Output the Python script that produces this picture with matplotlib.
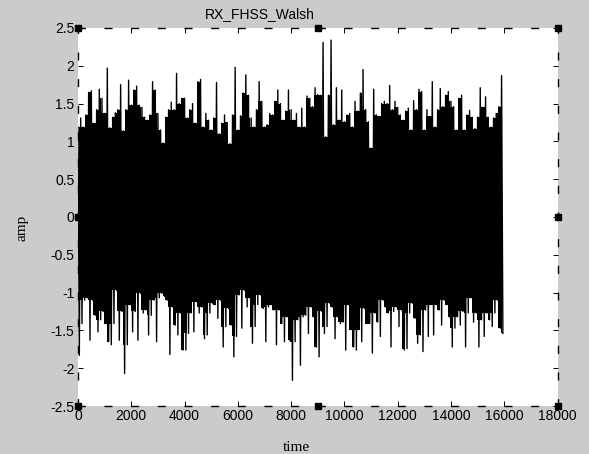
import numpy as np
import matplotlib
matplotlib.use("Agg")
import matplotlib.pyplot as plt

plt.rcParams['axes.unicode_minus'] = False

# peak (upper) and trough (lower) amplitude in each 100-sample slot
upper = [1.19, 1.31, 1.19, 1.35, 1.65, 1.67, 1.24, 1.42, 1.69, 1.57,
         1.37, 1.97, 1.18, 1.32, 1.38, 1.42, 1.75, 1.14, 1.42, 1.81,
         1.48, 1.68, 1.73, 1.48, 1.45, 1.32, 1.28, 1.35, 1.79, 1.68,
         1.37, 1.15, 0.98, 1.32, 1.42, 1.52, 1.42, 1.90, 1.50, 1.57,
         1.57, 1.31, 1.42, 1.50, 1.24, 1.79, 1.82, 1.19, 1.37, 1.28,
         1.15, 1.31, 1.78, 1.10, 1.24, 1.35, 1.25, 0.97, 1.35, 1.98,
         1.15, 1.34, 1.64, 1.88, 1.61, 1.31, 1.19, 1.42, 1.79, 1.53,
         1.19, 1.22, 1.37, 1.35, 1.53, 1.68, 1.50, 1.28, 1.40, 1.68,
         1.42, 1.28, 1.37, 1.19, 1.44, 1.19, 1.60, 1.57, 1.46, 1.71,
         1.62, 1.61, 2.31, 1.06, 1.61, 2.34, 1.22, 1.71, 1.28, 1.68,
         1.26, 1.35, 1.37, 1.19, 1.53, 1.40, 1.64, 1.95, 1.42, 1.26,
         0.91, 1.69, 1.35, 1.33, 1.50, 1.53, 1.50, 1.74, 1.42, 1.53,
         1.45, 1.35, 1.28, 1.40, 1.44, 1.15, 1.54, 1.42, 1.69, 1.66,
         1.15, 1.42, 1.33, 1.79, 1.19, 1.42, 1.70, 1.46, 1.61, 1.66,
         1.53, 1.46, 1.15, 1.57, 1.61, 1.15, 1.35, 1.41, 1.32, 1.17,
         1.32, 1.71, 1.45, 1.59, 1.32, 1.19, 1.31, 1.37, 1.46, 1.87]

lower = [-1.83, -1.41, -1.10, -1.07, -1.63, -1.10, -1.30, -1.52, -1.36, -1.25,
         -1.41, -1.65, -1.69, -1.41, -0.97, -1.63, -1.25, -2.07, -1.69, -1.16,
         -1.52, -1.25, -1.63, -1.01, -1.27, -1.23, -1.56, -1.30, -1.10, -1.65,
         -1.07, -1.01, -1.05, -1.10, -1.82, -1.19, -1.43, -1.56, -1.27, -1.76,
         -1.76, -1.54, -1.27, -1.52, -1.12, -1.27, -1.19, -1.61, -1.56, -1.27,
         -1.14, -1.16, -1.34, -1.10, -1.72, -1.45, -1.21, -1.43, -1.85, -1.58,
         -1.03, -1.47, -0.97, -1.19, -1.07, -1.67, -1.45, -1.16, -1.03, -1.21,
         -1.65, -1.19, -1.16, -1.23, -1.69, -1.23, -1.41, -1.65, -1.32, -1.63,
         -2.16, -1.65, -1.36, -1.96, -1.32, -1.30, -1.54, -1.19, -1.32, -1.72,
         -1.85, -1.25, -1.54, -1.45, -1.14, -1.19, -1.61, -1.32, -1.41, -1.39,
         -1.76, -1.16, -1.49, -1.72, -1.76, -1.49, -1.65, -1.21, -1.41, -1.41,
         -1.80, -1.27, -1.39, -1.58, -1.10, -1.19, -1.27, -1.72, -1.25, -1.19,
         -1.45, -1.23, -1.76, -1.74, -1.27, -1.14, -1.34, -1.67, -1.56, -1.78,
         -1.23, -1.58, -1.16, -1.56, -1.16, -1.23, -1.43, -1.10, -1.16, -1.32,
         -1.72, -1.47, -1.32, -1.43, -1.25, -1.72, -1.27, -1.07, -1.39, -1.27,
         -1.72, -1.36, -1.58, -1.27, -1.36, -1.45, -1.27, -1.10, -1.47, -1.54]

slot = 100
xticks = [0, 2000, 4000, 6000, 8000, 10000, 12000, 14000, 16000, 18000]
yticks = [-2.5, -2, -1.5, -1, -0.5, 0, 0.5, 1, 1.5, 2, 2.5]
ytick_labels = ['-2.5', '-2', '-1.5', '-1', '-0.5', '0', '0.5', '1', '1.5', '2', '2.5']

W, H = 589, 454
fig = plt.figure(figsize=(W / 100, H / 100), dpi=100)
fig.patch.set_facecolor('#cbcbcb')
ax = fig.add_axes([78 / W, 1 - 406 / H, 479.5 / W, 378 / H])

up = np.array(upper)
lo = np.array(lower)
t = np.arange(len(up)) * slot

# solid core: below the lower of each pair of neighbouring peaks
core_up = np.minimum(up, np.append(up[1:], up[-1]))
core_lo = np.maximum(lo, np.append(lo[1:], lo[-1]))
ax.fill_between(t + slot / 4, core_lo, core_up, step='mid', color='black', lw=0)

# signal: swing from each slot's peak down to its trough
tt = np.empty(2 * len(up))
yy = np.empty(2 * len(up))
tt[0::2] = t
tt[1::2] = t + slot / 2
yy[0::2] = up
yy[1::2] = lo
ax.plot(tt, yy, color='black', lw=1.0)

ax.set_xlim(0, 18000)
ax.set_ylim(-2.5, 2.5)
ax.set_xticks(xticks)
ax.set_xticklabels([str(v) for v in xticks])
ax.set_yticks(yticks)
ax.set_yticklabels(ytick_labels)
ax.tick_params(direction='in', length=3.6, width=0.7, top=True, right=True,
               labelsize=10, pad=2.5)
for lab in ax.get_xticklabels() + ax.get_yticklabels():
    lab.set_family('Liberation Sans')

for side in ['top', 'bottom', 'left', 'right']:
    ax.spines[side].set_linestyle((0, (4.8, 14.4)))
    ax.spines[side].set_linewidth(1.0)

# selection handles
hx = [0, 0.5, 1, 0, 1, 0, 0.5, 1]
hy = [0, 0, 0, 0.5, 0.5, 1, 1, 1]
ax.plot(hx, hy, 's', color='black', ms=5, transform=ax.transAxes,
        clip_on=False, zorder=10)

fig.text(260 / W, 1 - 18.3 / H, 'RX_FHSS_Walsh', ha='center', va='baseline',
         fontsize=10, family='Liberation Sans')
fig.text(296.5 / W, 1 - 451 / H, 'time', ha='center', va='baseline',
         fontsize=11, family='Liberation Serif')
fig.text(22 / W, 1 - 228 / H, 'amp', ha='center', va='center', rotation=90,
         fontsize=11, family='Liberation Serif')

fig.savefig('out.png', dpi=100, facecolor=fig.get_facecolor())
